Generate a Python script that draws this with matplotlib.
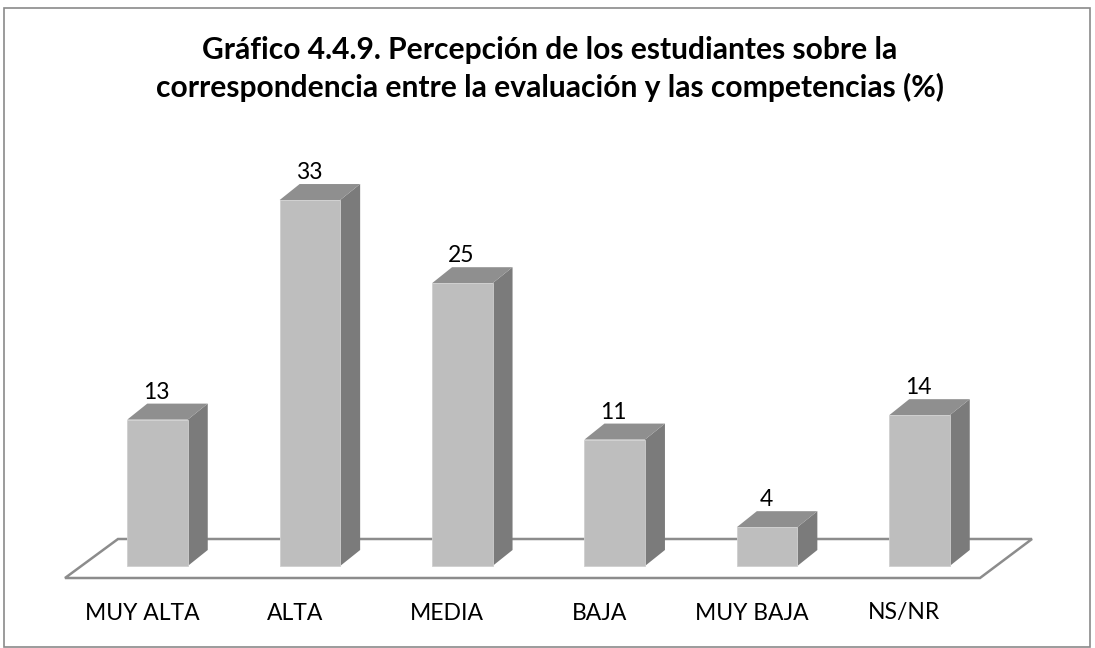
#!/usr/bin/env python3
# -*- coding: utf-8 -*-

import matplotlib
matplotlib.use('Agg')
import matplotlib.pyplot as plt
from matplotlib.patches import Polygon, Rectangle

categories = ['MUY ALTA', 'ALTA', 'MEDIA', 'BAJA', 'MUY BAJA', 'NS/NR']
values = [13.2, 33.0, 25.5, 11.4, 3.5, 13.6]
value_labels = ['13', '33', '25', '11', '4', '14']

title = ('Gráfico 4.4.9. Percepción de los estudiantes sobre la\n'
         'correspondencia entre la evaluación y las competencias (%)')

plt.rcParams['font.family'] = ['Lato', 'DejaVu Sans']

W, H = 1095, 648
X0, STEP = 157.5, 152.4   # pixel position of first bar, spacing
Y0, UNIT = 566, 11.09     # pixel position of zero, pixels per percent

FRONT, SIDE, TOP = '#bebebe', '#7b7b7b', '#8f8f8f'
LINE = '#8c8c8c'

fig = plt.figure(figsize=(W / 100, H / 100), dpi=100)
ax = fig.add_axes([0, 0, 1, 1])
ax.set_xlim(-X0 / STEP, (W - X0) / STEP)
ax.set_ylim((Y0 - H) / UNIT, Y0 / UNIT)
ax.axis('off')

# depth of the fake 3D, in data units
dx = 20 / STEP
dy = 16 / UNIT
width = 60.5 / STEP


def px(x, y):
    return ((x - X0) / STEP, (Y0 - y) / UNIT)


# outer frame
ax.add_patch(Rectangle(px(4, 647), 1086 / STEP, 639 / UNIT, fill=False,
                       edgecolor='#8a8a8a', linewidth=1.2, zorder=1))

# floor
floor = [px(65, 578), px(118, 539), px(1032, 539), px(980, 578)]
ax.add_patch(Polygon(floor, closed=True, facecolor='white', edgecolor=LINE,
                     linewidth=1.8, joinstyle='miter', zorder=2))

pos = list(range(len(categories)))
ax.bar(pos, values, width=width, color=FRONT, edgecolor='#cfcfcf',
       linewidth=0.6, zorder=4)

for i, v in zip(pos, values):
    l = i - width / 2
    r = i + width / 2
    side = [(r, 0), (r + dx, dy), (r + dx, v + dy), (r, v)]
    top = [(l, v), (l + dx, v + dy), (r + dx, v + dy), (r, v)]
    ax.add_patch(Polygon(side, closed=True, facecolor=SIDE, edgecolor='none', zorder=3))
    ax.add_patch(Polygon(top, closed=True, facecolor=TOP, edgecolor='none', zorder=3))

for i, v, lab in zip(pos, values, value_labels):
    ax.text(i - 1 / STEP, v + 27.5 / UNIT, lab, fontsize=16.5, color='black',
            ha='center', va='center', zorder=5)

for i, cat in zip(pos, categories):
    ax.text(i - 15 / STEP, -47 / UNIT, cat, fontsize=16.5, color='black',
            ha='center', va='center', zorder=5)

tx, ty = px(550, 69)
ax.text(tx, ty, title, fontsize=21.6, fontweight='bold', color='black',
        ha='center', va='center', linespacing=1.34, zorder=5)

plt.savefig('out.png', dpi=100)
plt.close()
